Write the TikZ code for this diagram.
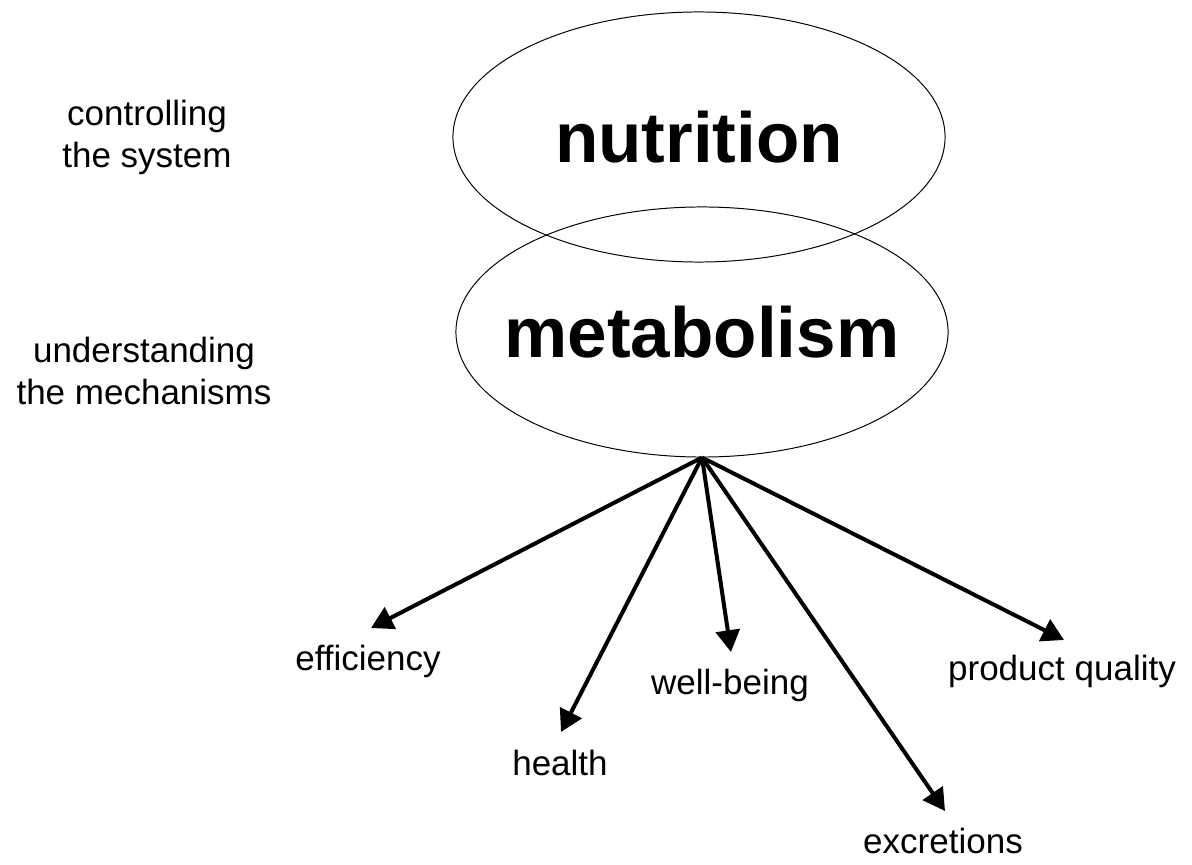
\documentclass[tikz,border=0pt]{standalone}
\usepackage{fontspec}
\setmainfont{Liberation Sans}
\usepackage{tikz}
\usetikzlibrary{arrows.meta, shapes.geometric}

\begin{document}
\begin{tikzpicture}[x=0.025cm, y=-0.025cm,
    blob/.style={ellipse, draw, line width=0.7pt, inner sep=0pt, minimum width=12.3cm, minimum height=6.25cm},
    big/.style={font=\fontsize{50.5}{60}\selectfont\bfseries, inner sep=0pt},
    lbl/.style={font=\fontsize{24.9}{30}\selectfont, inner sep=0pt, anchor=base},
    note/.style={font=\fontsize{24.9}{30}\selectfont, inner sep=0pt, align=center, anchor=north},
    spoke/.style={-{Triangle[length=15.5pt, width=17pt]}, line width=2.85pt}]
    \useasboundingbox (0, 0) rectangle (1192, 865);

    % the two levels
    \node[blob, label={[big]center:nutrition}] (nut) at (699, 137) {};
    \node[blob, label={[big]center:metabolism}] (met) at (702, 332) {};

    \node[note] (ctrl) at (147, 100) {controlling\\the system};
    \node[note] (und) at (144, 337) {understanding\\the mechanisms};

    % outcomes
    \node[lbl] (eff) at (368, 670) {efficiency};
    \node[lbl] (hea) at (560, 775) {health};
    \node[lbl] (wel) at (730, 694) {well-being};
    \node[lbl] (exc) at (943, 853) {excretions};
    \node[lbl] (pq) at (1062, 680) {product quality};

    \coordinate (tEff) at (371, 628);
    \coordinate (tHea) at (561, 732);
    \coordinate (tWel) at (731, 652);
    \coordinate (tExc) at (945, 811);
    \coordinate (tPq) at (1064, 640);

    \draw[spoke] (met.south) -- (tEff);
    \draw[spoke] (met.south) -- (tHea);
    \draw[spoke] (met.south) -- (tWel);
    \draw[spoke] (met.south) -- (tExc);
    \draw[spoke] (met.south) -- (tPq);
\end{tikzpicture}
\end{document}
